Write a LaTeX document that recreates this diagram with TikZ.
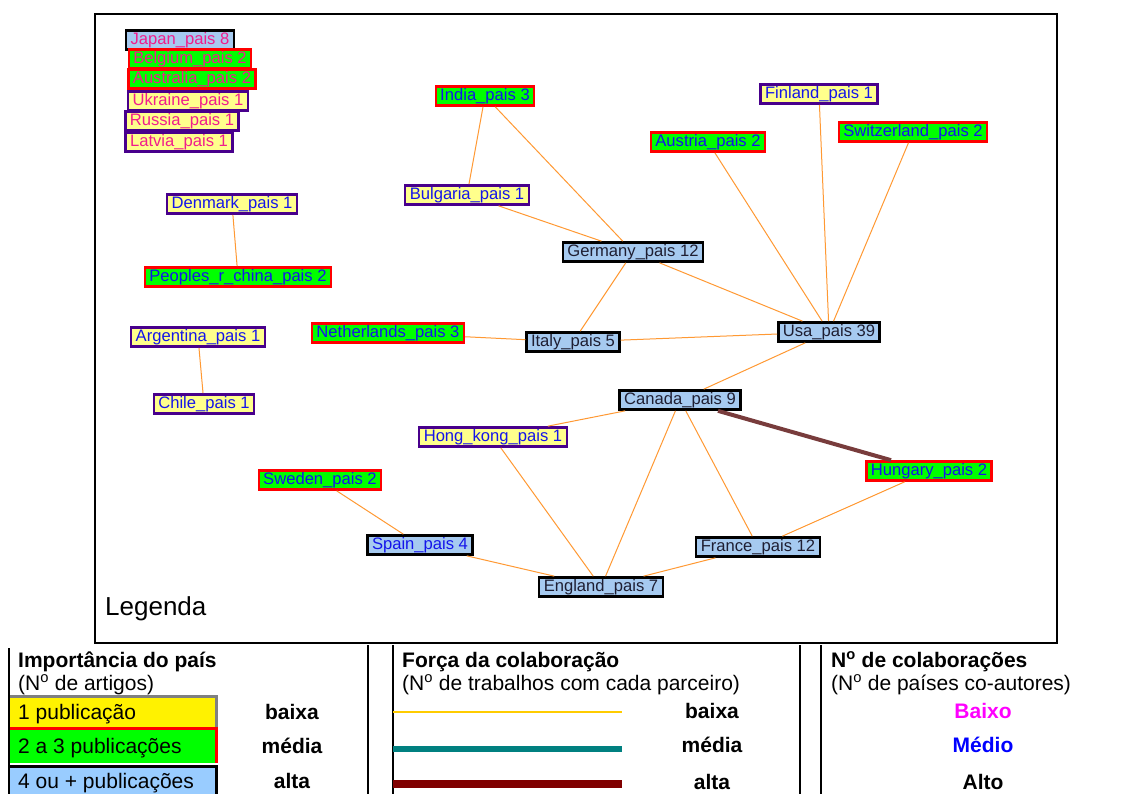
\documentclass[tikz,border=0pt]{standalone}
\usepackage{fontspec}
\setmainfont{Liberation Sans}
\usetikzlibrary{
	positioning,
	calc}
\definecolor{paleyellow}{RGB}{255,255,140}
\definecolor{packpurple}{RGB}{72,0,140}
\definecolor{packgreen}{RGB}{0,255,0}
\definecolor{packred}{RGB}{255,0,0}
\definecolor{packblue}{RGB}{166,202,240}
\definecolor{colabpink}{RGB}{240,30,140}
\definecolor{colabblue}{RGB}{20,20,235}
\definecolor{colabdark}{RGB}{30,30,50}
\definecolor{linkorange}{RGB}{255,153,51}
\definecolor{linkbrown}{RGB}{120,60,60}
\definecolor{keyyellow}{RGB}{255,204,0}
\definecolor{keyteal}{RGB}{0,128,128}
\definecolor{keymaroon}{RGB}{128,0,0}
\definecolor{keyblue}{RGB}{153,204,255}
\definecolor{keymagenta}{RGB}{255,0,255}
\tikzset{
	pais/.style={
		rectangle,
		draw,
		line width=2.4pt,
		inner xsep=4.5pt,
		inner ysep=1.5pt,
		text height=12.5pt,
		text depth=3.8pt,
		font=\fontsize{16.6}{19}\selectfont
	},
	pais baixa/.style={pais, fill=paleyellow, draw=packpurple},
	pais media/.style={pais, fill=packgreen, draw=packred},
	pais alta/.style={pais, fill=packblue, draw=black},
	colab baixo/.style={text=colabpink},
	colab medio/.style={text=colabblue},
	colab alto/.style={text=colabdark},
	link/.style={draw=linkorange, line width=1pt},
	strong link/.style={draw=linkbrown, line width=4pt},
	key title/.style={anchor=base west, inner sep=0pt,
		font=\fontsize{21}{24}\selectfont\bfseries},
	key text/.style={anchor=base west, inner sep=0pt,
		font=\fontsize{21}{24}\selectfont},
	key level/.style={anchor=base, inner sep=0pt,
		font=\fontsize{21}{24}\selectfont\bfseries},
}

\begin{document}
\begin{tikzpicture}[x=1pt, y=-1pt]
	\useasboundingbox[fill=white] (0,0) rectangle (1133,794);
	\draw[line width=1.5pt] (95,14) rectangle (1057,643);

	% isolated countries
	\node[pais alta, colab baixo] (japan) at (180,40) {Japan\_pais 8};
	\node[pais media, colab baixo] (belgium) at (190,59) {Belgium\_pais 2};
	\node[pais media, colab baixo] (australia) at (192,79) {Australia\_pais 2};
	\node[pais baixa, colab baixo] (ukraine) at (188,101) {Ukraine\_pais 1};
	\node[pais baixa, colab baixo] (russia) at (182,121) {Russia\_pais 1};
	\node[pais baixa, colab baixo] (latvia) at (179,142) {Latvia\_pais 1};

	% network
	\node[pais media, colab medio] (india) at (485,96) {India\_pais 3};
	\node[pais baixa, colab medio] (bulgaria) at (467,195) {Bulgaria\_pais 1};
	\node[pais alta, colab alto] (germany) at (633,252) {Germany\_pais 12};
	\node[pais baixa, colab medio] (finland) at (819,94) {Finland\_pais 1};
	\node[pais media, colab medio] (austria) at (708,142) {Austria\_pais 2};
	\node[pais media, colab medio] (switzerland) at (913,132) {Switzerland\_pais 2};
	\node[pais alta, colab alto] (usa) at (829,332) {Usa\_pais 39};
	\node[pais baixa, colab medio] (denmark) at (232,204) {Denmark\_pais 1};
	\node[pais media, colab medio] (china) at (238,277) {Peoples\_r\_china\_pais 2};
	\node[pais baixa, colab medio] (argentina) at (198,337) {Argentina\_pais 1};
	\node[pais baixa, colab medio] (chile) at (204,404) {Chile\_pais 1};
	\node[pais media, colab medio] (netherlands) at (388,333) {Netherlands\_pais 3};
	\node[pais alta, colab alto] (italy) at (573,342) {Italy\_pais 5};
	\node[pais alta, colab alto] (canada) at (680,400) {Canada\_pais 9};
	\node[pais baixa, colab medio] (hongkong) at (493,437) {Hong\_kong\_pais 1};
	\node[pais media, colab medio] (sweden) at (320,480) {Sweden\_pais 2};
	\node[pais alta, colab medio] (spain) at (420,545) {Spain\_pais 4};
	\node[pais alta, colab alto] (england) at (601,587) {England\_pais 7};
	\node[pais alta, colab alto] (france) at (758,547) {France\_pais 12};
	\node[pais media, colab medio] (hungary) at (929,471) {Hungary\_pais 2};

	\draw[link] (india) -- (bulgaria);
	\draw[link] (india) -- (germany);
	\draw[link] (bulgaria) -- (germany);
	\draw[link] (germany) -- (usa);
	\draw[link] (germany) -- (italy);
	\draw[link] (austria) -- (usa);
	\draw[link] (finland) -- (usa);
	\draw[link] (switzerland) -- (usa);
	\draw[link] (netherlands) -- (italy);
	\draw[link] (italy) -- (usa);
	\draw[link] (usa) -- (canada);
	\draw[link] (denmark) -- (china);
	\draw[link] (argentina) -- (chile);
	\draw[link] (canada) -- (hongkong);
	\draw[link] (canada) -- (england);
	\draw[link] (canada) -- (france);
	\draw[link] (hungary) -- (france);
	\draw[link] (hongkong) -- (england);
	\draw[link] (sweden) -- (spain);
	\draw[link] (spain) -- (england);
	\draw[link] (france) -- (england);
	\draw[strong link] (canada) -- (hungary);

	\node[anchor=base west, inner sep=0pt, font=\fontsize{26}{30}\selectfont]
		(legenda) at (105,615) {Legenda};

	% legend table
	\foreach \x in {368,393,800,821}
		\draw[line width=1.5pt] (\x,645) -- (\x,794);

	\fill[yellow] (9,696) rectangle (216,727);
	\draw[gray, line width=3pt] (9,696) -- (216,696) -- (216,727);
	\fill[packgreen] (9,728) rectangle (216,763);
	\draw[packred, line width=3pt] (9,728.5) -- (216,728.5) -- (216,763);
	\fill[keyblue] (9,765) rectangle (216,794);
	\draw[black, line width=3pt] (9,766) -- (216,766) -- (216,794);
	\draw[line width=1.5pt] (9,648) -- (9,794);

	\node[key title] (imp) at (18,667) {Importância do país};
	\node[key text] (impsub) at (18,690) {(N\textsuperscript{o} de artigos)};
	\node[key text] (pub1) at (18,719) {1 publicação};
	\node[key text] (pub2) at (18,753) {2 a 3 publicações};
	\node[key text] (pub4) at (18,788) {4 ou + publicações};
	\node[key level] (imp1) at (292,719) {baixa};
	\node[key level] (imp2) at (292,753) {média};
	\node[key level] (imp3) at (292,788) {alta};

	\node[key title] (forca) at (402,667) {Força da colaboração};
	\node[key text] (forcasub) at (402,690) {(N\textsuperscript{o} de trabalhos com cada parceiro)};
	\draw[keyyellow, line width=2pt] (393,712) -- (622,712);
	\draw[keyteal, line width=6pt] (393,749) -- (622,749);
	\draw[keymaroon, line width=8pt] (393,784) -- (622,784);
	\node[key level] (forca1) at (712,718) {baixa};
	\node[key level] (forca2) at (712,752) {média};
	\node[key level] (forca3) at (712,789) {alta};

	\node[key title] (ncol) at (831,667) {N\textsuperscript{o} de colaborações};
	\node[key text] (ncolsub) at (831,690) {(N\textsuperscript{o} de países co-autores)};
	\node[key level, text=keymagenta] (ncol1) at (983,718) {Baixo};
	\node[key level, text=blue] (ncol2) at (983,752) {Médio};
	\node[key level] (ncol3) at (983,789) {Alto};
\end{tikzpicture}
\end{document}
